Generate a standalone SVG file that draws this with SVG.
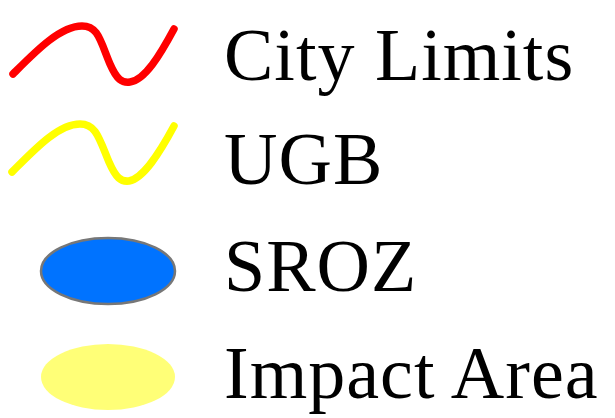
<svg xmlns="http://www.w3.org/2000/svg" width="615" height="418" viewBox="0 0 615 418">
<style>
.lbl{font-family:"Liberation Serif","Times New Roman",serif;font-size:74px;fill:#000;letter-spacing:1px}
.ln{fill:none;stroke-width:7.5;stroke-linecap:round;stroke-linejoin:round}
</style>
<rect width="615" height="418" fill="#fff"/>
<g id="city-limits">
<path class="ln" stroke="#ff0000" d="M13,74 C35,52 60,26 82,26 C98,26 100,40 110,64 C117,80 122,83 130,82 C145,80 160,55 174,29"/>
<text class="lbl" x="224" y="80">City Limits</text>
</g>
<g id="ugb">
<path class="ln" stroke="#ffff00" d="M12,172 C34,150 58,124 80,124 C96,124 99,138 109,162 C116,178 121,182 129,181 C144,178 160,152 174,126"/>
<text class="lbl" x="224" y="184">UGB</text>
</g>
<g id="sroz">
<ellipse cx="108" cy="271" rx="67" ry="33" fill="#0073ff" stroke="#777777" stroke-width="2.5"/>
<text class="lbl" x="224" y="291">SROZ</text>
</g>
<g id="impact-area">
<ellipse cx="108" cy="377" rx="67" ry="33" fill="#ffff77"/>
<text class="lbl" x="224" y="398">Impact Area</text>
</g>
</svg>
